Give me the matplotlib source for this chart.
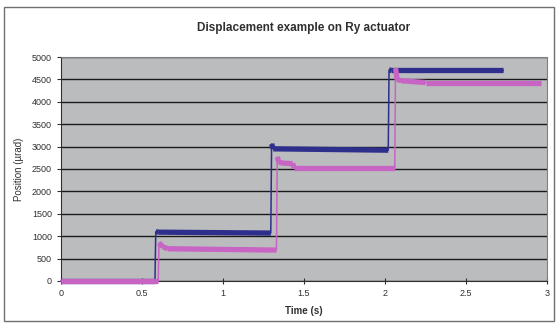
import numpy as np
import matplotlib
matplotlib.use("Agg")
import matplotlib.pyplot as plt
from matplotlib.collections import LineCollection
from matplotlib.patches import Rectangle

plt.rcParams["font.family"] = ["Liberation Sans", "DejaVu Sans"]

# Blue trace (commanded / first sensor)
blue_t = [0.0, 0.58, 0.585, 0.60, 1.295, 1.30, 1.31, 2.02, 2.025, 2.04, 2.73]
blue_y = [0, 0, 1100, 1090, 1070, 3060, 2950, 2920, 4710, 4700, 4700]

# Pink trace
pink_t = [0.0, 0.60, 0.605, 0.63, 0.66, 1.33, 1.335, 1.345, 1.37, 1.43, 1.44, 2.06, 2.065, 2.075, 2.10, 2.25, 2.96]
pink_y = [0, 0, 850, 760, 720, 690, 2770, 2650, 2630, 2620, 2530, 2530, 4750, 4500, 4470, 4430, 4430]

blue_col = "#2e2e8c"
pink_col = "#c864c4"

fig = plt.figure(figsize=(5.58, 3.25), dpi=100)
fig.patch.set_facecolor("white")
fig.patches.append(Rectangle((0.008, 0.012), 0.985, 0.968, transform=fig.transFigure,
                             fill=False, edgecolor="#707070", lw=1.0))

ax = fig.add_axes([0.1093, 0.1354, 0.8710, 0.6892])
ax.set_facecolor("#bbbcbe")
ax.set_xlim(0, 3)
ax.set_ylim(0, 5000)
ax.set_xticks([0, 0.5, 1, 1.5, 2, 2.5, 3])
ax.set_xticklabels(["0", "0.5", "1", "1.5", "2", "2.5", "3"])
ax.set_yticks(np.arange(0, 5001, 500))
ax.yaxis.grid(True, color="#1a1a1a", lw=1.0)
ax.set_axisbelow(True)
for s in ax.spines.values():
    s.set_color("#808080")
ax.spines["left"].set_color("#303030")
ax.spines["bottom"].set_color("#303030")
ax.tick_params(axis="both", labelsize=6.5, colors="#303030", length=3)
ax.tick_params(axis="x", direction="inout", length=4)


def draw(t, y, col):
    t = np.array(t)
    y = np.array(y)
    ax.plot(t, y, color=col, lw=1.1, clip_on=False, zorder=3)
    segs = []
    for i in range(len(t) - 1):
        if abs(y[i + 1] - y[i]) < 300:
            segs.append([(t[i], y[i]), (t[i + 1], y[i + 1])])
    ax.add_collection(LineCollection(segs, colors=col, lw=3.8, zorder=3,
                                     capstyle="butt", clip_on=False))


draw(blue_t, blue_y, blue_col)
draw(pink_t, pink_y, pink_col)

ax.set_title("Displacement example on Ry actuator", fontsize=8.5, fontweight="bold",
             color="#303030", pad=19)
ax.set_xlabel("Time (s)", fontsize=7, fontweight="bold", color="#303030", labelpad=6)
ax.set_ylabel("Position (\u00b5rad)", fontsize=7, color="#303030", labelpad=6)

fig.savefig("out.png", dpi=100)
